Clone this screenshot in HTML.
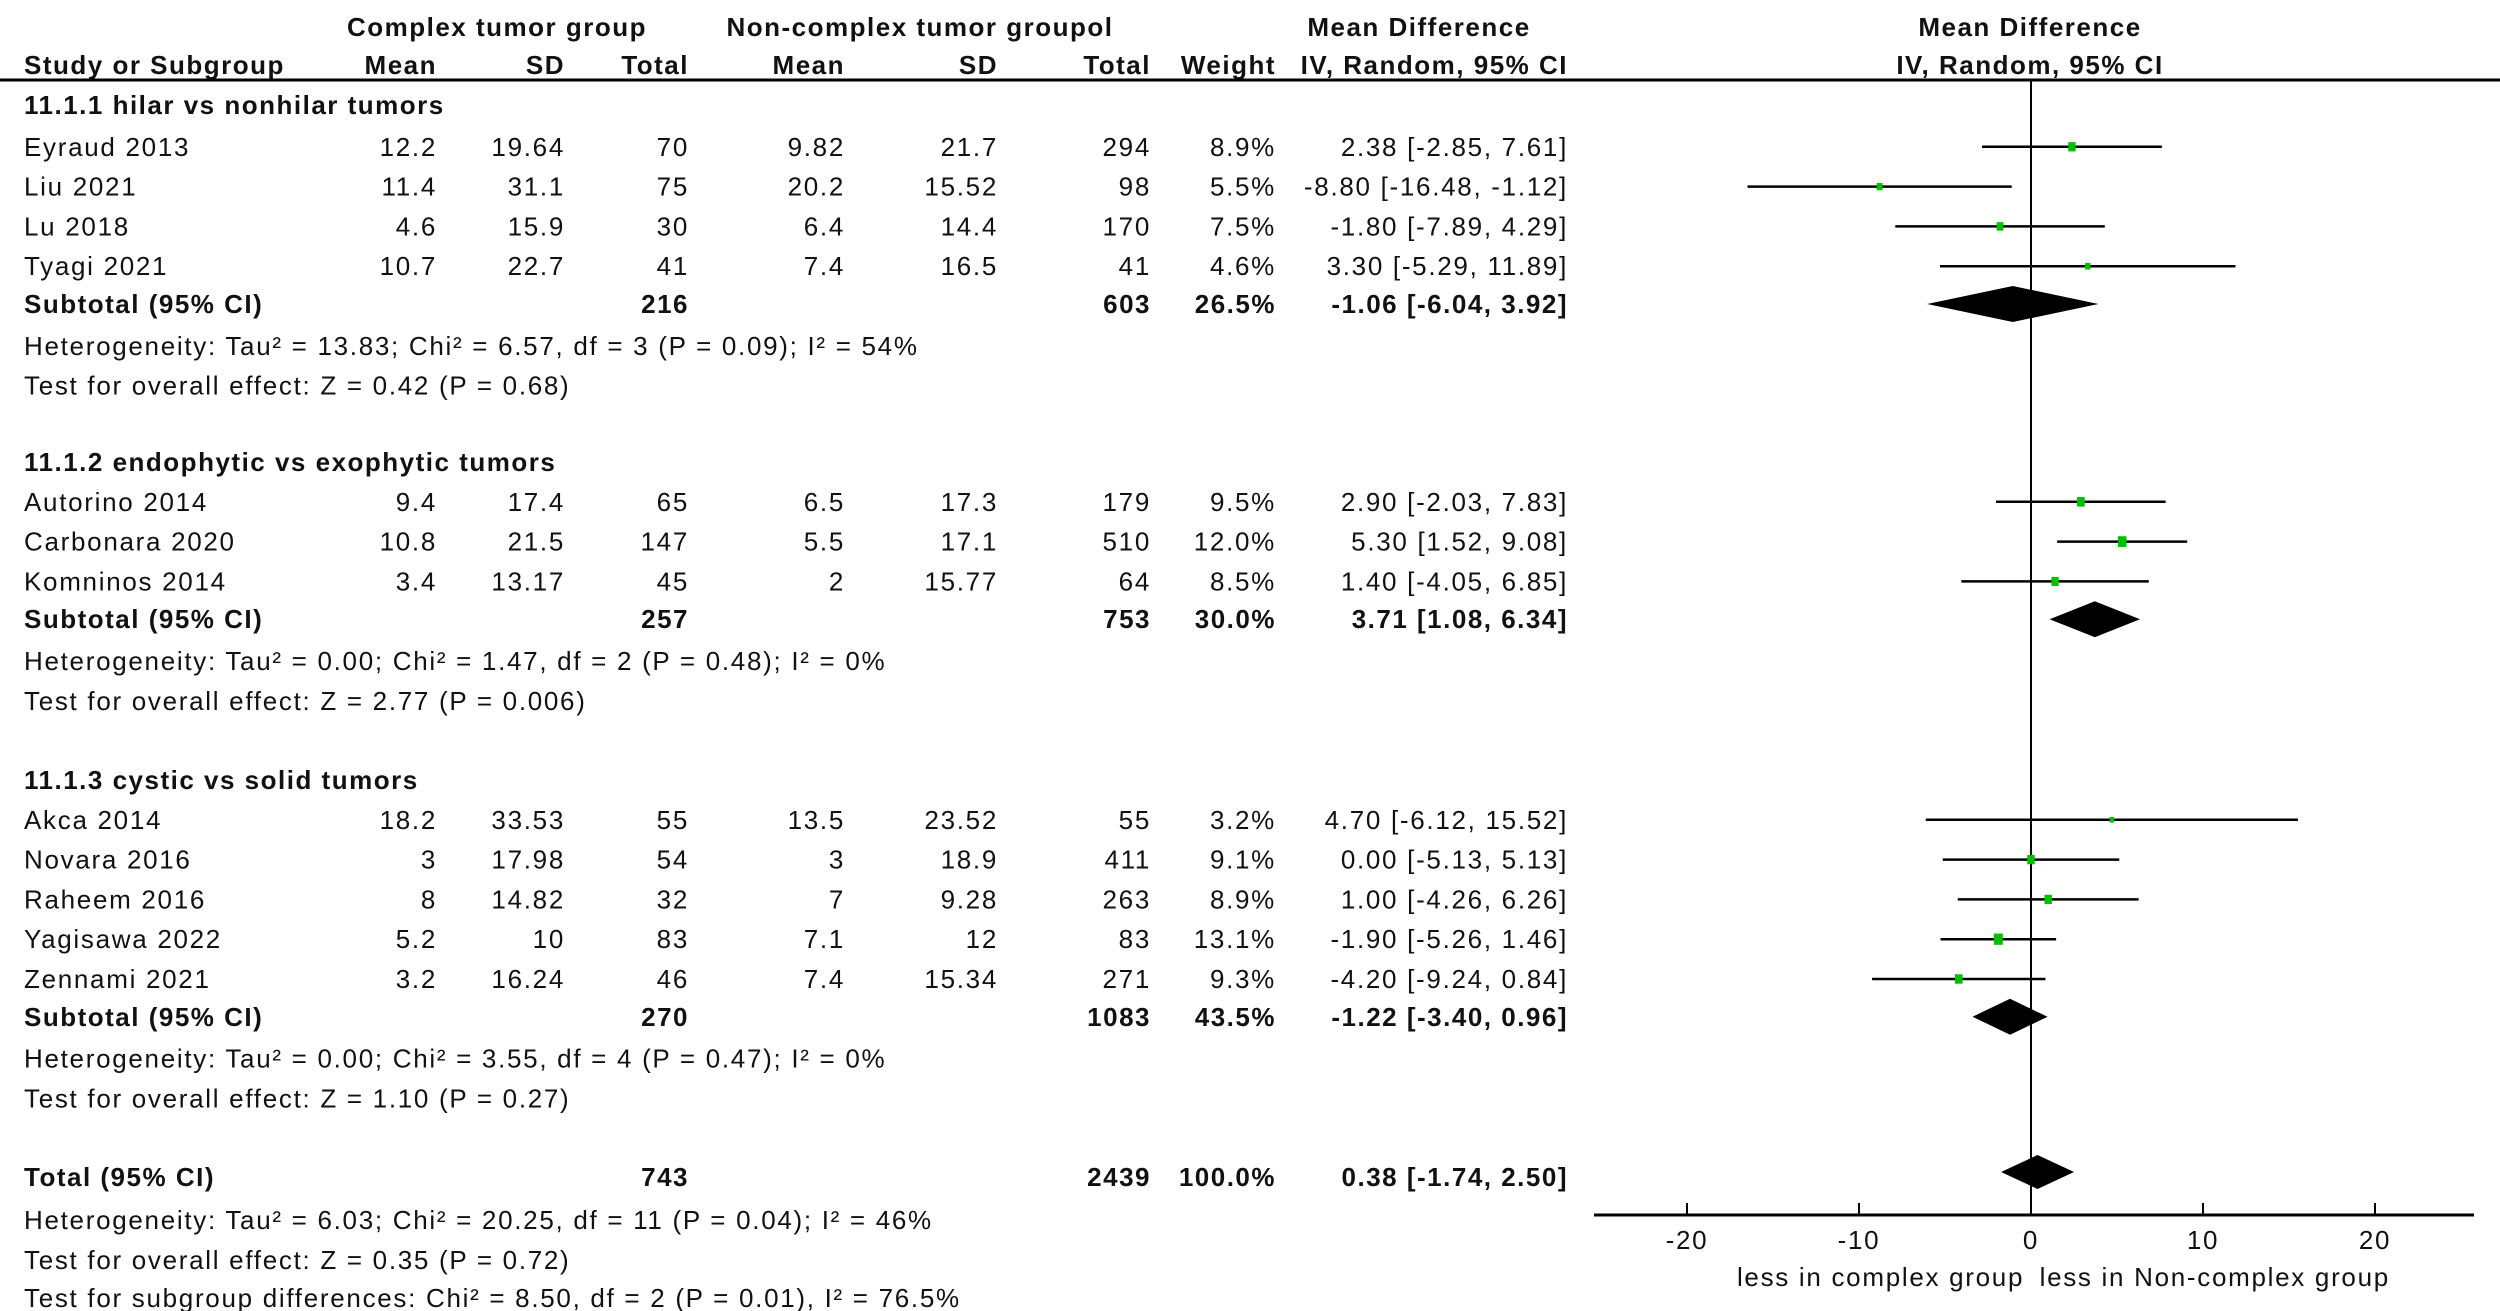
<!DOCTYPE html>
<html><head><meta charset="utf-8"><style>
html,body{margin:0;padding:0;background:#fff;}
svg{display:block;}
text{font-family:"Liberation Sans",Arial,sans-serif;font-size:26px;letter-spacing:1.7px;fill:#111;}
.b{font-weight:bold;letter-spacing:1.5px;}
</style></head><body>
<svg id="chart" width="2500" height="1311" viewBox="0 0 2500 1311" xmlns="http://www.w3.org/2000/svg"></svg>
<script>
// ---- data ----
const studies = ["Eyraud 2013","Liu 2021","Lu 2018","Tyagi 2021","Autorino 2014","Carbonara 2020","Komninos 2014","Akca 2014","Novara 2016","Raheem 2016","Yagisawa 2022","Zennami 2021"];
const studyGroup = [0,0,0,0,1,1,1,2,2,2,2,2];
const cMean = ["12.2","11.4","4.6","10.7","9.4","10.8","3.4","18.2","3","8","5.2","3.2"];
const cSD = ["19.64","31.1","15.9","22.7","17.4","21.5","13.17","33.53","17.98","14.82","10","16.24"];
const cTotal = ["70","75","30","41","65","147","45","55","54","32","83","46"];
const nMean = ["9.82","20.2","6.4","7.4","6.5","5.5","2","13.5","3","7","7.1","7.4"];
const nSD = ["21.7","15.52","14.4","16.5","17.3","17.1","15.77","23.52","18.9","9.28","12","15.34"];
const nTotal = ["294","98","170","41","179","510","64","55","411","263","83","271"];
const weights = [8.9,5.5,7.5,4.6,9.5,12.0,8.5,3.2,9.1,8.9,13.1,9.3];
const md = [2.38,-8.80,-1.80,3.30,2.90,5.30,1.40,4.70,0.00,1.00,-1.90,-4.20];
const ciLo = [-2.85,-16.48,-7.89,-5.29,-2.03,1.52,-4.05,-6.12,-5.13,-4.26,-5.26,-9.24];
const ciHi = [7.61,-1.12,4.29,11.89,7.83,9.08,6.85,15.52,5.13,6.26,1.46,0.84];
const groupTitles = ["11.1.1 hilar vs nonhilar tumors","11.1.2 endophytic vs exophytic tumors","11.1.3 cystic vs solid tumors"];
const subC = ["216","257","270"];
const subN = ["603","753","1083"];
const subW = [26.5,30.0,43.5];
const subMd = [-1.06,3.71,-1.22];
const subLo = [-6.04,1.08,-3.40];
const subHi = [3.92,6.34,0.96];
const subHet = ["Heterogeneity: Tau\u00b2 = 13.83; Chi\u00b2 = 6.57, df = 3 (P = 0.09); I\u00b2 = 54%","Heterogeneity: Tau\u00b2 = 0.00; Chi\u00b2 = 1.47, df = 2 (P = 0.48); I\u00b2 = 0%","Heterogeneity: Tau\u00b2 = 0.00; Chi\u00b2 = 3.55, df = 4 (P = 0.47); I\u00b2 = 0%"];
const subTest = ["Test for overall effect: Z = 0.42 (P = 0.68)","Test for overall effect: Z = 2.77 (P = 0.006)","Test for overall effect: Z = 1.10 (P = 0.27)"];
const totalMd = 0.38, totalLo = -1.74, totalHi = 2.50;
const ticks = [-20,-10,0,10,20];

// ---- layout ----
const svg = document.getElementById('chart');
const NS = 'http://www.w3.org/2000/svg';
const x0 = 2031, unit = 17.2;
function xs(v){ return x0 + v*unit; }
function fmt(v){ return v.toFixed(2); }
function ci(m,l,h){ return fmt(m)+" ["+fmt(l)+", "+fmt(h)+"]"; }
function T(x,y,s,anchor,bold,name){
  const t=document.createElementNS(NS,'text');
  t.setAttribute('x',x); t.setAttribute('y',y);
  if(anchor) t.setAttribute('text-anchor',anchor);
  if(bold) t.setAttribute('class','b');
  
  
  t.textContent=s; svg.appendChild(t); return t;
}
function L(x1,y1,x2,y2,w,name){
  const l=document.createElementNS(NS,'line');
  l.setAttribute('x1',x1);l.setAttribute('y1',y1);l.setAttribute('x2',x2);l.setAttribute('y2',y2);
  l.setAttribute('stroke','#000');l.setAttribute('stroke-width',w);
  
  
  svg.appendChild(l); return l;
}
function diamond(m,lo,hi,yc,hh,name){
  const p=document.createElementNS(NS,'polygon');
  p.setAttribute('points',xs(lo)+','+yc+' '+xs(m)+','+(yc-hh)+' '+xs(hi)+','+yc+' '+xs(m)+','+(yc+hh));
  p.setAttribute('fill','#000');
  
  
  svg.appendChild(p);
}
const colX = {cm:437,csd:565,ct:689,nm:845,nsd:998,nt:1151,w:1276,ci:1568};
const off = 9; // baseline offset from row center

// headers
T(497,27+off,"Complex tumor group","middle",true,"complex-group-header");
T(920,27+off,"Non-complex tumor groupol","middle",true,"noncomplex-group-header");
T(1419,27+off,"Mean Difference","middle",true,"md-header");
T(2030,27+off,"Mean Difference","middle",true,"plot-md-header");
T(24,65+off,"Study or Subgroup",null,true,"study-header");
T(colX.cm,65+off,"Mean","end",true,"c-mean-header");
T(colX.csd,65+off,"SD","end",true,"c-sd-header");
T(colX.ct,65+off,"Total","end",true,"c-total-header");
T(colX.nm,65+off,"Mean","end",true,"n-mean-header");
T(colX.nsd,65+off,"SD","end",true,"n-sd-header");
T(colX.nt,65+off,"Total","end",true,"n-total-header");
T(colX.w,65+off,"Weight","end",true,"weight-header");
T(colX.ci,65+off,"IV, Random, 95% CI","end",true,"ci-header");
T(2030,65+off,"IV, Random, 95% CI","middle",true,"plot-ci-header");
L(0,80,2500,80,3,"header-rule");

// zero line
L(x0,80,x0,1215,2,"zero-line");

const groupY = [105,462,780];
const rowH = 39.8;
for(let g=0; g<3; g++){
  let y = groupY[g];
  T(24,y+off,groupTitles[g],null,true,"group-title");
  let k=0;
  for(let i=0;i<studies.length;i++){
    if(studyGroup[i]!==g) continue;
    k++;
    const yr = y + k*rowH + (g===0?2:0);
    T(24,yr+off,studies[i],null,false,"study-name");
    T(colX.cm,yr+off,cMean[i],"end",false,"c-mean");
    T(colX.csd,yr+off,cSD[i],"end",false,"c-sd");
    T(colX.ct,yr+off,cTotal[i],"end",false,"c-total");
    T(colX.nm,yr+off,nMean[i],"end",false,"n-mean");
    T(colX.nsd,yr+off,nSD[i],"end",false,"n-sd");
    T(colX.nt,yr+off,nTotal[i],"end",false,"n-total");
    T(colX.w,yr+off,weights[i].toFixed(1)+"%","end",false,"weight");
    T(colX.ci,yr+off,ci(md[i],ciLo[i],ciHi[i]),"end",false,"ci-text");
    L(xs(ciLo[i]),yr,xs(ciHi[i]),yr,2.5,"ci-line");
    const s = Math.sqrt(weights[i])*3.1;
    const r=document.createElementNS(NS,'rect');
    r.setAttribute('x',xs(md[i])-s*0.4); r.setAttribute('y',yr-s/2);
    r.setAttribute('width',s*0.8); r.setAttribute('height',s);
    r.setAttribute('fill','#00c000');
    
    
    svg.appendChild(r);
  }
  const ys = y + (k+1)*rowH - 2 + (g===0?2:0);
  T(24,ys+off,"Subtotal (95% CI)",null,true,"subtotal-label");
  T(colX.ct,ys+off,subC[g],"end",true,"subtotal-c");
  T(colX.nt,ys+off,subN[g],"end",true,"subtotal-n");
  T(colX.w,ys+off,subW[g].toFixed(1)+"%","end",true,"subtotal-weight");
  T(colX.ci,ys+off,ci(subMd[g],subLo[g],subHi[g]),"end",true,"subtotal-ci");
  diamond(subMd[g],subLo[g],subHi[g],ys,18,"subtotal-diamond");
  T(24,ys+rowH+2+off,subHet[g],null,false,"heterogeneity-text");
  T(24,ys+2*rowH+2+off,subTest[g],null,false,"overall-effect-text");
}
// total
T(24,1177+off,"Total (95% CI)",null,true,"total-label");
T(colX.ct,1177+off,"743","end",true,"total-c");
T(colX.nt,1177+off,"2439","end",true,"total-n");
T(colX.w,1177+off,"100.0%","end",true,"total-weight");
T(colX.ci,1177+off,ci(totalMd,totalLo,totalHi),"end",true,"total-ci");
diamond(totalMd,totalLo,totalHi,1172,17,"total-diamond");
T(24,1220+off,"Heterogeneity: Tau\u00b2 = 6.03; Chi\u00b2 = 20.25, df = 11 (P = 0.04); I\u00b2 = 46%",null,false,"total-heterogeneity");
T(24,1260+off,"Test for overall effect: Z = 0.35 (P = 0.72)",null,false,"total-overall-effect");
T(24,1298+off,"Test for subgroup differences: Chi\u00b2 = 8.50, df = 2 (P = 0.01), I\u00b2 = 76.5%",null,false,"subgroup-differences");

// axis
L(1594,1215,2474,1215,3,"x-axis");
for(const t of ticks){
  L(xs(t),1203,xs(t),1215,2,"x-tick");
  T(xs(t),1249,String(t),"middle",false,"x-tick-label");
}
T(xs(-0.4),1286,"less in complex group","end",false,"axis-label-left");
T(xs(0.5),1286,"less in Non-complex group",null,false,"axis-label-right");
</script>
</body></html>
